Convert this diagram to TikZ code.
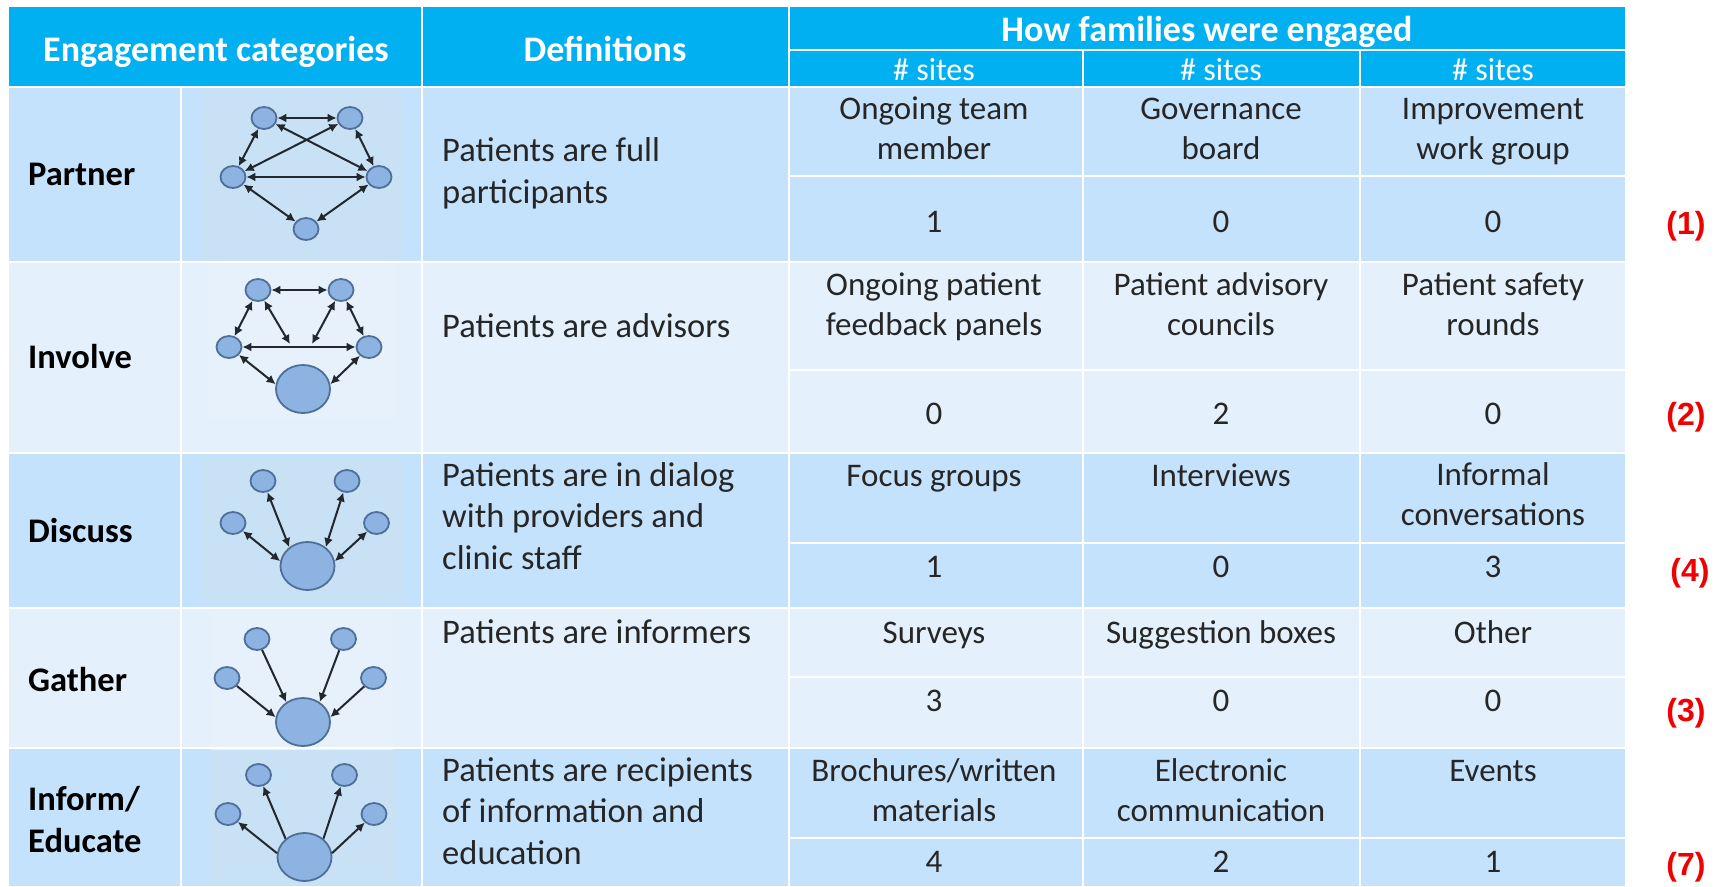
\documentclass[tikz,border=0pt]{standalone}
\usepackage{fontspec}
\setmainfont{Carlito}
\newfontfamily\redfont{Liberation Sans}
\usetikzlibrary{shapes.geometric,arrows.meta}
\definecolor{hdr}{HTML}{00B0F0}
\definecolor{rowdark}{HTML}{C5E2FD}
\definecolor{rowlight}{HTML}{E4F1FD}
\definecolor{picdark}{HTML}{C9E1F5}
\definecolor{piclight}{HTML}{E6F1FB}
\definecolor{dot}{HTML}{8DB3E2}
\definecolor{dotline}{HTML}{4F6F98}
\definecolor{arrowc}{HTML}{23272E}
\definecolor{redlab}{HTML}{F00000}
\tikzset{
  x=1pt,y=-1pt,
  grid/.style={draw=white,line width=2pt},
  cell/.style={inner sep=0pt,font=\fontsize{33}{39.5}\selectfont,text=black!85,align=center,anchor=base},
  defn/.style={inner sep=0pt,font=\fontsize{34.5}{41.5}\selectfont,text=black!85,align=left,anchor=base west},
  cat/.style={inner sep=0pt,font=\fontsize{34.5}{42}\selectfont\bfseries,text=black,align=left,anchor=base west},
  head/.style={inner sep=0pt,font=\fontsize{36}{40}\selectfont\bfseries,text=white,anchor=base},
  sub/.style={inner sep=0pt,font=\fontsize{32}{36}\selectfont,text=white,anchor=base},
  tag/.style={inner sep=0pt,font=\fontsize{32}{36}\selectfont\redfont\bfseries,text=redlab,anchor=base},
  sm/.style={ellipse,draw=dotline,fill=dot,line width=1.8pt,minimum width=25pt,minimum height=22pt,inner sep=0pt},
  big/.style={ellipse,draw=dotline,fill=dot,line width=1.8pt,minimum width=54pt,minimum height=48pt,inner sep=0pt},
  both/.style={draw=arrowc,line width=2pt,{Latex[length=9pt,width=9pt]}-{Latex[length=9pt,width=9pt]}},
  tobig/.style={draw=arrowc,line width=2pt,-{Latex[length=9pt,width=9pt]}},
}
\begin{document}
\begin{tikzpicture}
\useasboundingbox (0,0) rectangle (1715,886);
\fill[white] (0,0) rectangle (1715,886);
% bands
\fill[hdr] (9,7) rectangle (1625,87);
\fill[rowdark] (9,87) rectangle (1625,262);
\fill[rowlight] (9,262) rectangle (1625,453);
\fill[rowdark] (9,453) rectangle (1625,608);
\fill[rowlight] (9,608) rectangle (1625,748);
\fill[rowdark] (9,748) rectangle (1625,886);
% picture backgrounds
\fill[picdark] (202,89) rectangle (402,261);
\fill[piclight] (209,263) rectangle (395,420);
\fill[picdark] (201,457) rectangle (404,602);
\fill[piclight] (211,610) rectangle (393,750);
\fill[picdark] (209,750) rectangle (398,886);
% grid
\foreach \yy in {87,262,453,608,748} \draw[grid] (9,\yy) -- (1625,\yy);
\foreach \yy in {176,370,543,677,838} \draw[grid] (789,\yy) -- (1625,\yy);
\draw[grid] (789,50) -- (1625,50);
\draw[grid] (181,87) -- (181,886);
\draw[grid] (421.5,7) -- (421.5,886);
\draw[grid] (789,7) -- (789,886);
\draw[grid] (1082.5,50) -- (1082.5,886);
\draw[grid] (1360,50) -- (1360,886);
% header
\node[head] (hcat) at (216,61) {Engagement categories};
\node[head] (hdef) at (605,61) {Definitions};
\node[head] (hhow) at (1207,41) {How families were engaged};
\node[sub] (s1) at (934,80) {\# sites};
\node[sub] (s2) at (1221,80) {\# sites};
\node[sub] (s3) at (1493,80) {\# sites};
% categories
\node[cat] (c1) at (28,185) {Partner};
\node[cat] (c2) at (28,368) {Involve};
\node[cat] (c3) at (28,542) {Discuss};
\node[cat] (c4) at (28,691) {Gather};
\node[cat] (c5) at (28,852) {Inform/\\Educate};
% definitions
\node[defn] (d1) at (442,203) {Patients are full\\participants};
\node[defn] (d2) at (442,337) {Patients are advisors};
\node[defn] (d3) at (442,569) {Patients are in dialog\\with providers and\\clinic staff};
\node[defn] (d4) at (442,643) {Patients are informers};
\node[defn] (d5) at (442,864) {Patients are recipients\\of information and\\education};
% row 1
\node[cell] (a11) at (934,159) {Ongoing team\\member};
\node[cell] (a12) at (1221,159) {Governance\\board};
\node[cell] (a13) at (1493,159) {Improvement\\work group};
\node[cell] (v11) at (934,232) {1};
\node[cell] (v12) at (1221,232) {0};
\node[cell] (v13) at (1493,232) {0};
% row 2
\node[cell] (a21) at (934,335) {Ongoing patient\\feedback panels};
\node[cell] (a22) at (1221,335) {Patient advisory\\councils};
\node[cell] (a23) at (1493,335) {Patient safety\\rounds};
\node[cell] (v21) at (934,424) {0};
\node[cell] (v22) at (1221,424) {2};
\node[cell] (v23) at (1493,424) {0};
% row 3
\node[cell] (a31) at (934,486) {Focus groups};
\node[cell] (a32) at (1221,486) {Interviews};
\node[cell] (a33) at (1493,525) {Informal\\conversations};
\node[cell] (v31) at (934,577) {1};
\node[cell] (v32) at (1221,577) {0};
\node[cell] (v33) at (1493,577) {3};
% row 4
\node[cell] (a41) at (934,643) {Surveys};
\node[cell] (a42) at (1221,643) {Suggestion boxes};
\node[cell] (a43) at (1493,643) {Other};
\node[cell] (v41) at (934,711) {3};
\node[cell] (v42) at (1221,711) {0};
\node[cell] (v43) at (1493,711) {0};
% row 5
\node[cell] (a51) at (934,821) {Brochures/written\\materials};
\node[cell] (a52) at (1221,821) {Electronic\\communication};
\node[cell] (a53) at (1493,781) {Events};
\node[cell] (v51) at (934,872) {4};
\node[cell] (v52) at (1221,872) {2};
\node[cell] (v53) at (1493,872) {1};
% tags
\node[tag] (t1) at (1686,234) {(1)};
\node[tag] (t2) at (1686,425) {(2)};
\node[tag] (t4) at (1690,581) {(4)};
\node[tag] (t3) at (1686,721) {(3)};
\node[tag] (t7) at (1686,875) {(7)};
% Partner graph
\node[sm] (pa) at (264,118) {};
\node[sm] (pb) at (350,118) {};
\node[sm] (pc) at (233,177) {};
\node[sm] (pd) at (379,177) {};
\node[sm] (pe) at (306,229) {};
\draw[both] (pa) -- (pb);
\draw[both] (pa) -- (pc);
\draw[both] (pb) -- (pd);
\draw[both] (pa) -- (pd);
\draw[both] (pb) -- (pc);
\draw[both] (pc) -- (pd);
\draw[both] (pc) -- (pe);
\draw[both] (pd) -- (pe);
% Involve graph
\node[sm] (ia) at (258,290) {};
\node[sm] (ib) at (341,290) {};
\node[sm] (ic) at (229,347) {};
\node[sm] (id) at (369,347) {};
\node[big] (ie) at (303,389) {};
\coordinate (il) at (290,344);
\coordinate (ir) at (312,344);
\draw[both] (ia) -- (ib);
\draw[both] (ia) -- (ic);
\draw[both] (ib) -- (id);
\draw[both] (ic) -- (id);
\draw[both] (ic) -- (ie.170);
\draw[both] (id) -- (ie.10);
\draw[both] (ia) -- (il);
\draw[both] (ib) -- (ir);
% Discuss graph
\node[sm] (da) at (263,481) {};
\node[sm] (db) at (347,481) {};
\node[sm] (dc) at (233,523) {};
\node[sm] (dd) at (376.5,523) {};
\node[big] (de) at (307.5,566) {};
\draw[both] (da) -- (de.134);
\draw[both] (db) -- (de.46);
\draw[both] (dc) -- (de.170);
\draw[both] (dd) -- (de.10);
% Gather graph
\node[sm] (ga) at (257,639) {};
\node[sm] (gb) at (343.5,639) {};
\node[sm] (gc) at (227,678) {};
\node[sm] (gd) at (373.5,678) {};
\node[big] (ge) at (303,722) {};
\draw[tobig] (ga) -- (ge.130);
\draw[tobig] (gb) -- (ge.50);
\draw[tobig] (gc) -- (ge.170);
\draw[tobig] (gd) -- (ge.10);
% Inform graph
\node[sm] (ea) at (258.5,775) {};
\node[sm] (eb) at (344.5,775) {};
\node[sm] (ec) at (228,814) {};
\node[sm] (ed) at (374,814) {};
\node[big] (ee) at (304.5,857) {};
\draw[tobig] (ee.136) -- (ea);
\draw[tobig] (ee.44) -- (eb);
\draw[tobig] (ee.172) -- (ec);
\draw[tobig] (ee.8) -- (ed);
\end{tikzpicture}
\end{document}
